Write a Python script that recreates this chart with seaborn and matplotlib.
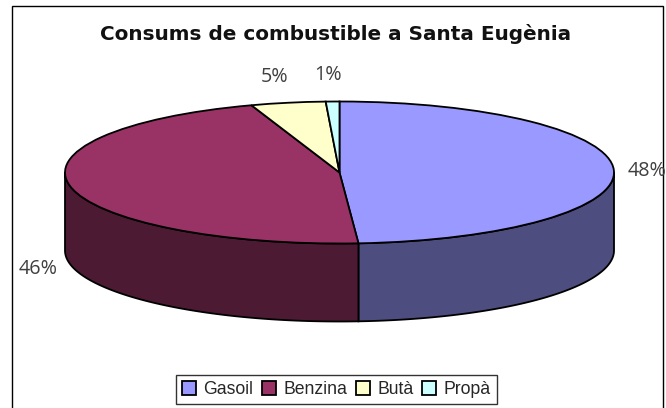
import numpy as np
import seaborn as sns
import matplotlib.pyplot as plt
from matplotlib.patches import Rectangle

W, H = 666, 408

fuels = ['Gasoil', 'Benzina', 'Butà', 'Propà']
shares = [48.9, 45.9, 4.4, 0.8]
pct_labels = ['48%', '46%', '5%', '1%']
top_colors = ['#9999FF', '#993366', '#FFFFCC', '#CCFFFF']
side_colors = ['#4D4D80', '#4D1A33', '#808066', '#668080']

sns.set_style('white')

# pie geometry in pixels
cx, cy, rx, ry, depth = 339.5, 172.5, 274.5, 71, 78

fig = plt.figure(figsize=(W / 100, H / 100), dpi=100)
ax = fig.add_axes([0, 0, 1, 1])

wedges, _ = ax.pie(shares, colors=top_colors, startangle=90, counterclock=False,
                   radius=1, center=(0, 0), frame=True,
                   wedgeprops=dict(edgecolor='black', linewidth=1.3, zorder=3))
ax.set_aspect('auto')
ax.set_xlim(-cx / rx, (W - cx) / rx)
ax.set_ylim(-(H - cy) / ry, cy / ry)
ax.axis('off')

# side wall, only the front half of the disc shows
d = depth / ry
bounds = np.cumsum([0] + shares) * 3.6
for i in range(len(shares)):
    a0, a1 = max(bounds[i], 90), min(bounds[i + 1], 270)
    if a1 <= a0:
        continue
    t = np.radians(np.linspace(a0, a1, 120))
    xs = np.sin(t)
    ys = np.cos(t)
    ax.fill(np.r_[xs, xs[::-1]], np.r_[ys, ys[::-1] - d], facecolor=side_colors[i],
            edgecolor='black', linewidth=1.3, zorder=2)

# chart frame runs off the bottom of the picture
fig.add_artist(Rectangle((11.5 / W, -10 / H), 651 / W, (H + 10 - 5.5) / H, fill=False,
                         edgecolor='black', linewidth=1.0, transform=fig.transFigure))

fig.text(336 / W, 1 - 34 / H, 'Consums de combustible a Santa Eugènia', ha='center',
         va='center', fontsize=14.45, fontweight='bold', family='DejaVu Sans', color='#111111')

label_pos = [(647, 171), (38, 269), (275, 77), (328, 75)]
for txt, (px, py) in zip(pct_labels, label_pos):
    fig.text(px / W, 1 - py / H, txt, ha='center', va='center', fontsize=14.2,
             family='Open Sans', color='#404040')

leg = fig.legend(wedges, fuels, loc='center', bbox_to_anchor=(336.5 / W, 1 - 389.5 / H),
                 ncol=4, frameon=True, fancybox=False, edgecolor='#333333', framealpha=1,
                 prop={'family': 'Liberation Sans', 'size': 12.7}, handlelength=0.8,
                 handleheight=0.8, handletextpad=0.4, columnspacing=0.5,
                 borderpad=0.36, borderaxespad=0)
leg.get_frame().set_linewidth(1.0)

fig.savefig('out.png', dpi=100)
